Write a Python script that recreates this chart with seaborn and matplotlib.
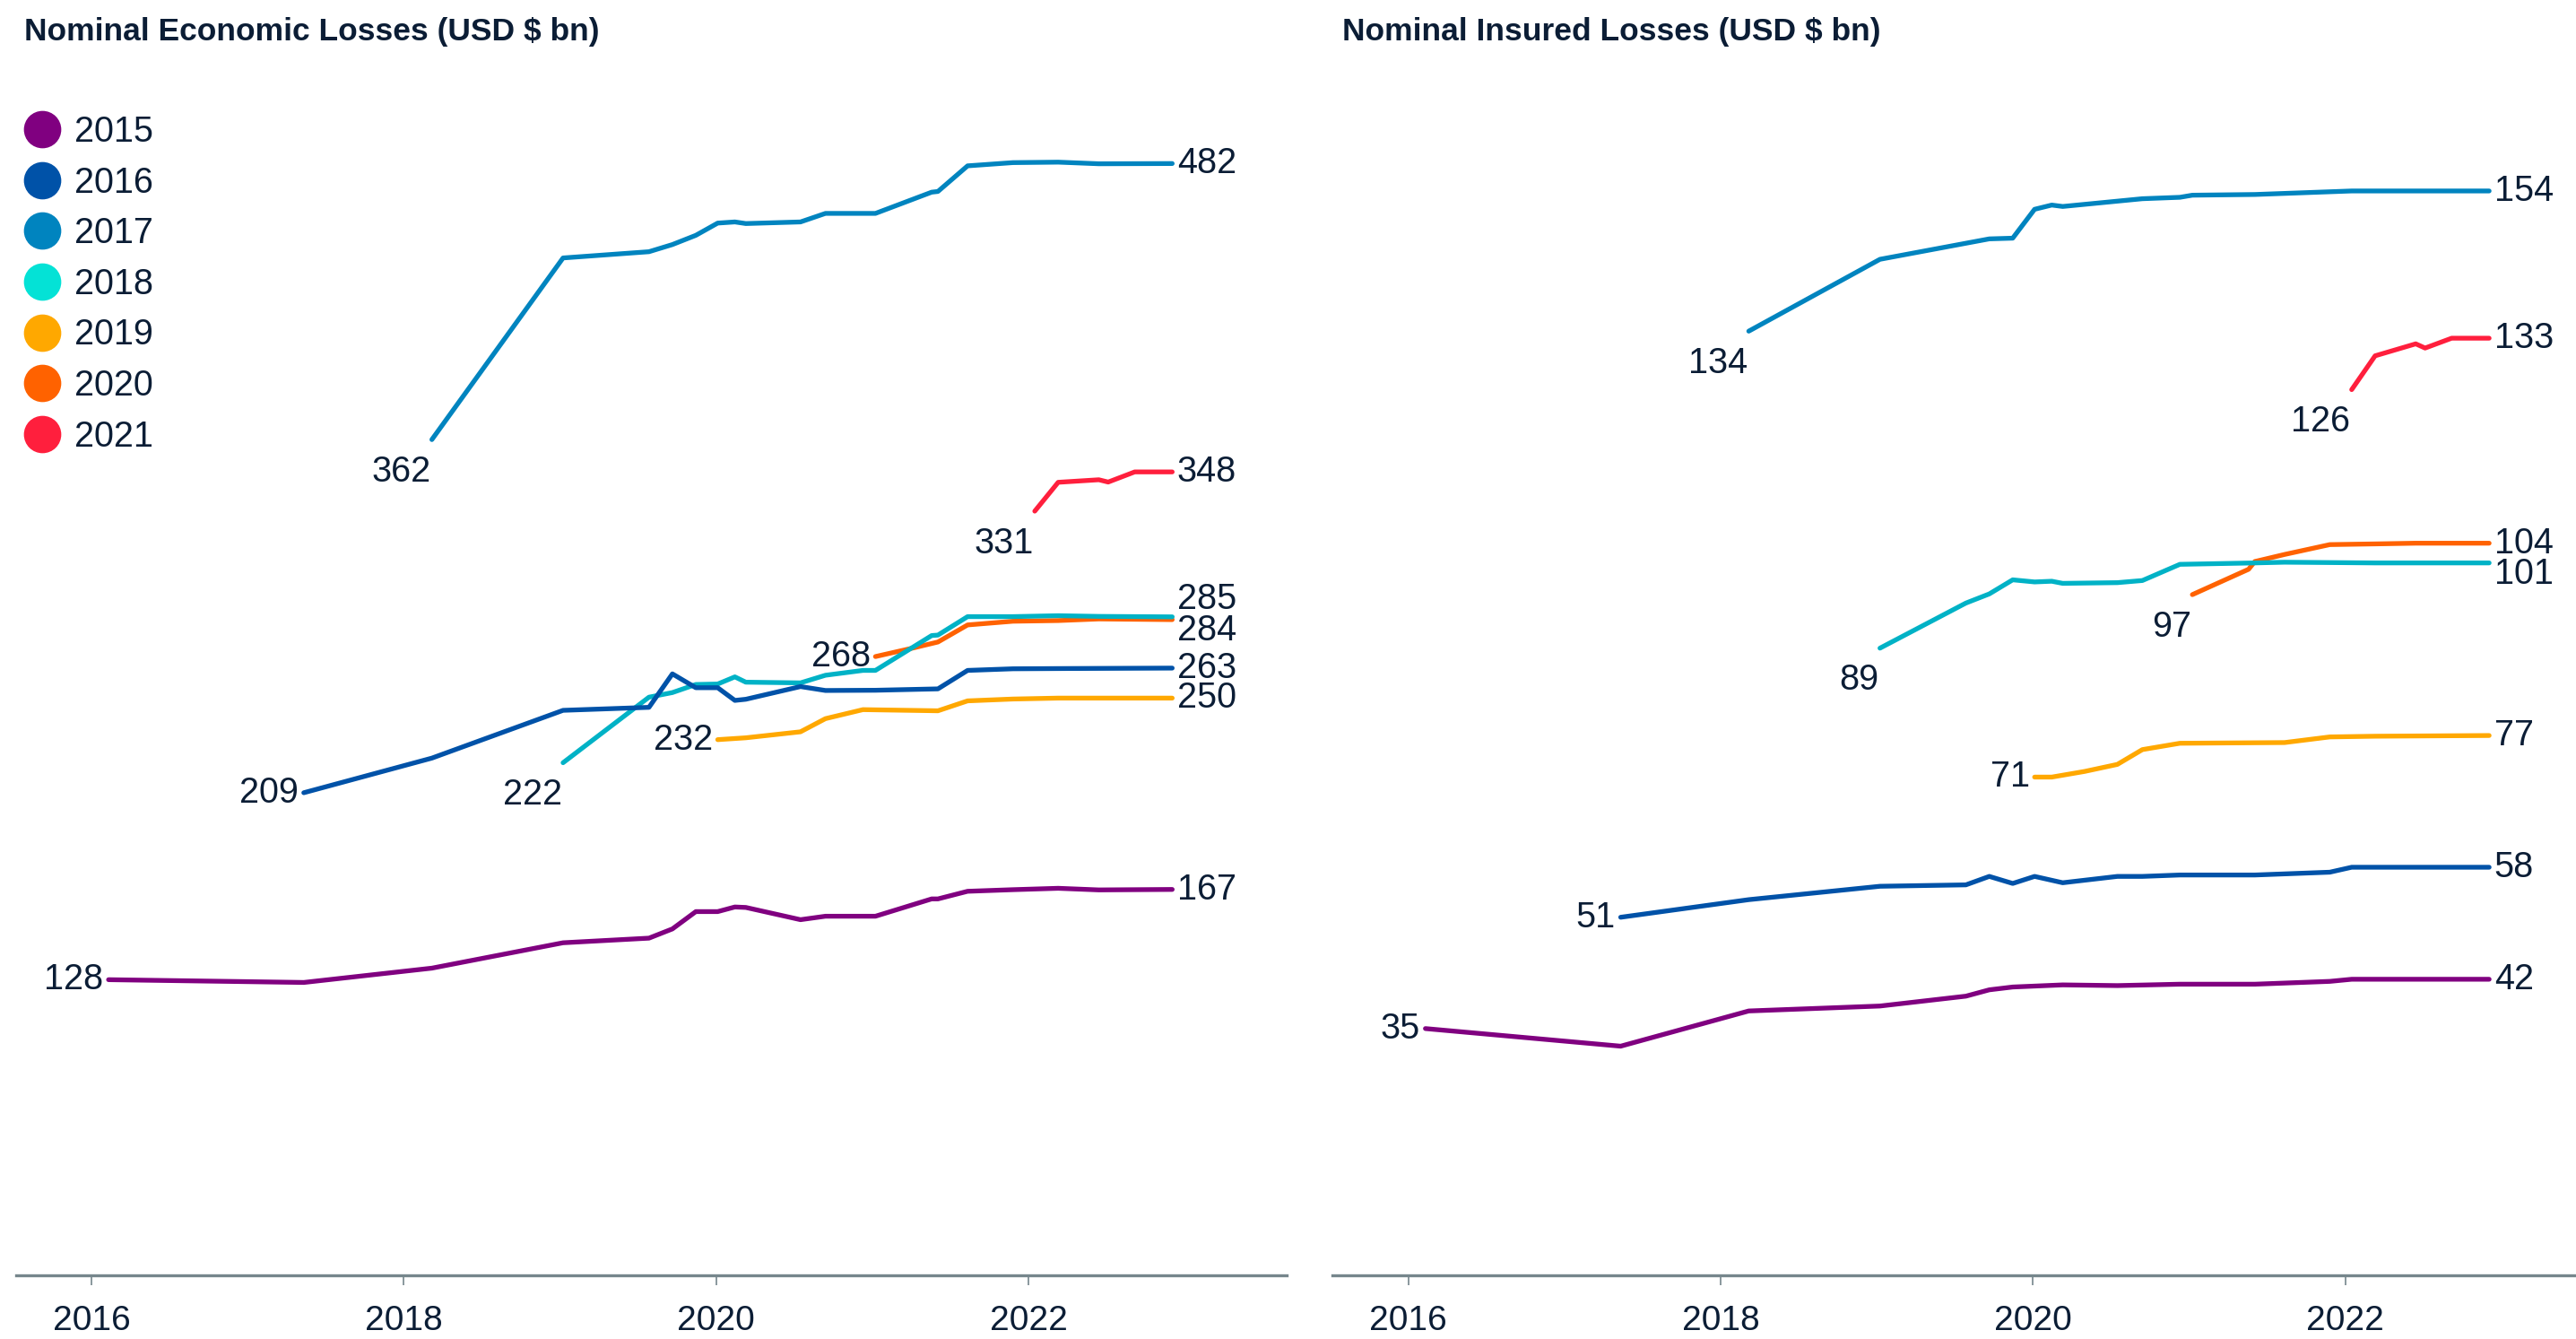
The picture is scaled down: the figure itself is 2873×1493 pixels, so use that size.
import numpy as np
import pandas as pd
import matplotlib.pyplot as plt
import seaborn as sns
from matplotlib.lines import Line2D

sns.set_style('white')
plt.rcParams['font.family'] = ['Liberation Sans', 'DejaVu Sans']

n = np.nan
navy = '#0b1d35'
axis_grey = '#76868c'
label_size = 28.5

# each event year is re-estimated over time, values in USD bn
years = [2015, 2016, 2017, 2018, 2019, 2020, 2021]
line_colors = ['#800080', '#0052a8', '#0084bf', '#00b2c6', '#ffa800', '#ff6200', '#ff1f3d']
legend_colors = ['#800080', '#0052a8', '#0084bf', '#04e2d6', '#ffa800', '#ff6200', '#ff1f3d']

dates = [2016.11, 2017.36, 2018.18, 2019.02, 2019.57, 2019.72, 2019.87, 2020.01,
         2020.12, 2020.19, 2020.33, 2020.54, 2020.70, 2020.94, 2021.02, 2021.26,
         2021.38, 2021.42, 2021.61, 2021.90, 2022.04, 2022.19, 2022.45, 2022.51,
         2022.68, 2022.92]

econ_2015 = [128, 126.8, 133, 144, 146, 150, 157.5, 157.5, 159.5, 159.3, n, 154, 155.5,
             n, 155.5, n, 163, 163, 166.3, 167, n, 167.6, 166.9, n, n, 167.1]
econ_2016 = [n, 209, 224, 244.7, 246, 260.5, 254.5, 254.5, 249, 249.5, n, 255, 253.3,
             n, 253.4, n, n, 254, 262, 262.7, n, 262.8, n, n, n, 263]
econ_2017 = [n, n, 362, 440.7, 443.4, 446.5, 450.5, 455.8, 456.3, 455.6, n, 456.3, 460,
             n, 460, n, 469.2, 469.5, 480.6, 482, n, 482.2, 481.5, n, n, 481.6]
econ_2018 = [n, n, n, 222, 250.4, 252.4, 255.9, 256.1, 259.2, 256.9, n, 256.6, 259.9,
             262, 262, n, 277.1, 277.3, 285.3, 285.3, n, 285.7, 285.4, n, n, 285.2]
econ_2019 = [n, n, n, n, n, n, n, 232, n, 232.8, n, 235.4, 241.1,
             245, n, n, n, 244.5, 248.8, 249.6, n, 250, n, n, n, 250]
econ_2020 = [n, n, n, n, n, n, n, n, n, n, n, n, n,
             n, 268, 271.7, n, 274.3, 281.7, 283.3, n, 283.6, 284.3, n, n, 284]
econ_2021 = [n, n, n, n, n, n, n, n, n, n, n, n, n,
             n, n, n, n, n, n, n, 331, 343.5, 344.6, 343.6, 348, 348]

ins_2015 = [35, 32.5, 37.5, 38.2, 39.6, 40.5, 40.9, n, n, 41.2, n, 41.1, n,
            41.3, n, n, n, 41.3, n, 41.7, 42, n, n, n, n, 42]
ins_2016 = [n, 50.8, 53.3, 55.2, 55.4, 56.6, 55.6, 56.6, n, 55.7, n, 56.6, 56.6,
            56.8, n, n, n, 56.8, n, 57.2, 57.9, n, n, n, n, 57.9]
ins_2017 = [n, n, 134, 144.2, n, 147.1, 147.2, 151.3, 151.9, 151.7, n, n, 152.8,
            153, 153.3, n, n, 153.4, n, n, 153.9, n, n, n, n, 153.9]
ins_2018 = [n, n, n, 89, 95.4, 96.7, 98.7, 98.4, 98.5, 98.2, n, 98.3, 98.6,
            100.9, n, n, n, 101.1, 101.2, n, n, 101.1, n, n, n, 101.1]
ins_2019 = [n, n, n, n, n, n, n, 70.7, 70.7, n, 71.5, 72.5, 74.6,
            75.5, n, n, n, n, 75.6, 76.4, n, 76.5, n, n, n, 76.6]
ins_2020 = [n, n, n, n, n, n, n, n, n, n, n, n, n,
            n, 96.6, n, 100.2, 101.3, 102.3, 103.7, n, 103.8, 103.9, n, n, 103.9]
ins_2021 = [n, n, n, n, n, n, n, n, n, n, n, n, n,
            n, n, n, n, n, n, n, 125.7, 130.5, 132.2, 131.6, 133, 133]

econ_values = [econ_2015, econ_2016, econ_2017, econ_2018, econ_2019, econ_2020, econ_2021]
ins_values = [ins_2015, ins_2016, ins_2017, ins_2018, ins_2019, ins_2020, ins_2021]

# where the first label sits: beside the start or below it
econ_start_below = [False, False, True, True, False, False, True]
ins_start_below = [False, False, True, True, False, True, True]
# vertical nudge (points) of the end labels that would collide
econ_end_shift = [0, 0, 0, 14, 0, -9, 0]
ins_end_shift = [0, 0, 0, -9, 0, 0, 0]


def long_frame(values):
    rows = []
    for yr, vals in zip(years, values):
        for d, v in zip(dates, vals):
            rows.append({'date': d, 'value': v, 'year': yr})
    return pd.DataFrame(rows).dropna()


def draw_panel(ax, values, start_below, end_shift, xlim, ymax):
    df = long_frame(values)
    sns.lineplot(data=df, x='date', y='value', hue='year', hue_order=years[::-1],
                 palette=dict(zip(years, line_colors)), estimator=None,
                 linewidth=3.8, legend=False, ax=ax, solid_capstyle='round')

    for yr, below, shift in zip(years, start_below, end_shift):
        s = df[df['year'] == yr]
        x0, y0 = s['date'].iloc[0], s['value'].iloc[0]
        x1, y1 = s['date'].iloc[-1], s['value'].iloc[-1]
        if below:
            ax.annotate(f"{y0:.0f}", (x0, y0), xytext=(-1, -12), textcoords='offset points',
                        ha='right', va='top', fontsize=label_size, color=navy)
        else:
            ax.annotate(f"{y0:.0f}", (x0, y0), xytext=(-4, 0), textcoords='offset points',
                        ha='right', va='center', fontsize=label_size, color=navy)
        ax.annotate(f"{y1:.0f}", (x1, y1), xytext=(4, shift), textcoords='offset points',
                    ha='left', va='center', fontsize=label_size, color=navy)

    ax.set_xlim(*xlim)
    ax.set_ylim(0, ymax)
    ax.set_yticks([])
    ax.set_xticks([2016, 2018, 2020, 2022])
    ax.set_xticklabels(['2016', '2018', '2020', '2022'])
    ax.set_xlabel('')
    ax.set_ylabel('')
    for side in ['left', 'right', 'top']:
        ax.spines[side].set_visible(False)
    ax.spines['bottom'].set_color(axis_grey)
    ax.spines['bottom'].set_linewidth(2.4)
    ax.tick_params(axis='x', bottom=True, length=8, width=1.2, color=axis_grey,
                   pad=16, labelsize=28, labelcolor=navy)


fig = plt.figure(figsize=(28.73, 14.93), dpi=100)
ax1 = fig.add_axes([0.0063, 0.0477, 0.4932, 0.8786])
ax2 = fig.add_axes([0.5172, 0.0477, 0.4828, 0.8786])

draw_panel(ax1, econ_values, econ_start_below, econ_end_shift, (2015.519, 2023.653), 509.7)
draw_panel(ax2, ins_values, ins_start_below, ins_end_shift, (2015.514, 2023.476), 167.0)

fig.text(27 / 2873, 1 - 36 / 1493, 'Nominal Economic Losses (USD $ bn)', fontsize=25.5,
         fontweight='bold', color=navy, ha='left', va='center')
fig.text(1497 / 2873, 1 - 36 / 1493, 'Nominal Insured Losses (USD $ bn)', fontsize=25.5,
         fontweight='bold', color=navy, ha='left', va='center')

handles = [Line2D([], [], marker='o', linestyle='', markersize=29, color=c) for c in legend_colors]
ax1.legend(handles, [str(y) for y in years], loc='upper left',
           bbox_to_anchor=(28 / 2873, 1 - 128 / 1493), bbox_transform=fig.transFigure,
           frameon=False, fontsize=label_size, labelcolor=navy, handlelength=0.97,
           handletextpad=0.42, labelspacing=0.47, borderpad=0, borderaxespad=0)

plt.savefig('out.png', dpi=100)
